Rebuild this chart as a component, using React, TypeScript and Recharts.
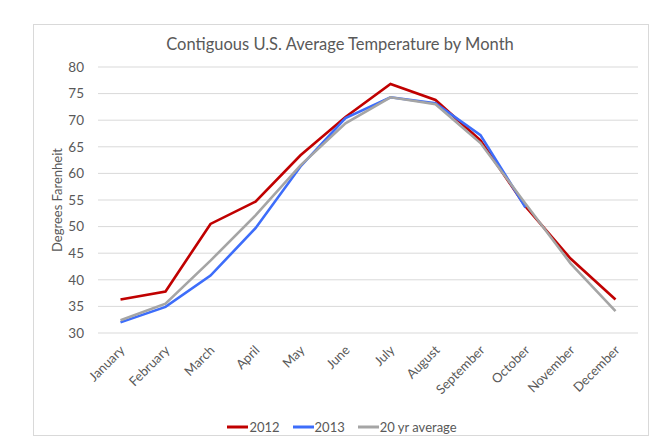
import { LineChart, Line, XAxis, YAxis, CartesianGrid } from "recharts";

const MONTHS = [
  "January", "February", "March", "April", "May", "June",
  "July", "August", "September", "October", "November", "December",
];
const TEMPS_2012 = [36.3, 37.8, 50.5, 54.7, 63.4, 70.6, 76.8, 73.8, 66.2, 53.8, 44.0, 36.3];
const TEMPS_2013 = [32.0, 34.9, 40.8, 49.7, 61.3, 70.4, 74.3, 73.2, 67.2, 53.6, null, null];
const TEMPS_AVG = [32.4, 35.5, 43.6, 52.1, 61.5, 69.4, 74.3, 73.0, 65.7, 54.3, 43.1, 34.1];
const Y_TICKS = [30, 35, 40, 45, 50, 55, 60, 65, 70, 75, 80];

const SERIES = [
  { key: "y2012", name: "2012", color: "#c00000" },
  { key: "y2013", name: "2013", color: "#3d6dfa" },
  { key: "avg", name: "20 yr average", color: "#a5a5a5" },
];

const FONT = "Lato, 'Open Sans', sans-serif";
const TEXT = "#595959";

const data = MONTHS.map((m, i) => ({
  month: m,
  y2012: TEMPS_2012[i],
  y2013: TEMPS_2013[i],
  avg: TEMPS_AVG[i],
}));

function MonthTick({ x, y, payload }: any) {
  const tx = x + 5;
  const ty = y + 10;
  return (
    <text
      x={tx}
      y={ty}
      transform={`rotate(-45, ${tx}, ${ty})`}
      textAnchor="end"
      fill={TEXT}
      fontSize={13}
      fontFamily={FONT}
    >
      {payload.value}
    </text>
  );
}

function LegendRow() {
  return (
    <div style={{ display: "flex", justifyContent: "center", gap: 13, fontFamily: FONT, fontSize: 13, color: TEXT }}>
      {SERIES.map((s) => (
        <div key={s.key} style={{ display: "flex", alignItems: "center" }}>
          <svg width={22} height={10}>
            <line x1={0} y1={5} x2={21} y2={5} stroke={s.color} strokeWidth={3} />
          </svg>
          <span>{s.name}</span>
        </div>
      ))}
    </div>
  );
}

export default function App() {
  return (
    <div style={{ position: "absolute", left: 0, top: 0, width: 650, height: 447, background: "#fff" }}>
      <div
        style={{
          position: "absolute",
          left: 33,
          top: 24,
          width: 614,
          height: 410,
          border: "1px solid #d9d9d9",
        }}
      />
      <div
        style={{
          position: "absolute",
          left: 0,
          top: 34,
          width: 650,
          textAlign: "center",
          fontFamily: FONT,
          fontSize: 16.5,
          color: TEXT,
          paddingLeft: 30,
          boxSizing: "border-box",
        }}
      >
        Contiguous U.S. Average Temperature by Month
      </div>
      <div style={{ position: "absolute", left: 0, top: 0 }}>
        <LineChart
          width={650}
          height={447}
          data={data}
          margin={{ top: 67, right: 12, bottom: 44, left: 38 }}
        >
          <CartesianGrid vertical={false} stroke="#d9d9d9" />
          <XAxis
            dataKey="month"
            axisLine={false}
            tickLine={false}
            interval={0}
            height={70}
            padding={{ left: 22.5, right: 22.5 }}
            tick={<MonthTick />}
          />
          <YAxis
            domain={[30, 80]}
            ticks={Y_TICKS}
            axisLine={false}
            tickLine={false}
            width={60}
            tickMargin={8}
            tick={{ fill: TEXT, fontSize: 13.5, fontFamily: FONT }}
            label={{
              value: "Degrees Farenheit",
              angle: -90,
              position: "insideLeft",
              offset: 0,
              dx: 19,
              style: { fill: TEXT, fontSize: 13, fontFamily: FONT, textAnchor: "middle" },
            }}
          />
          {SERIES.map((s) => (
            <Line
              key={s.key}
              dataKey={s.key}
              name={s.name}
              stroke={s.color}
              strokeWidth={2.6}
              dot={false}
              activeDot={false}
              isAnimationActive={false}
            />
          ))}
        </LineChart>
      </div>
      <div style={{ position: "absolute", left: 42, width: 600, top: 419 }}>
        <LegendRow />
      </div>
    </div>
  );
}
